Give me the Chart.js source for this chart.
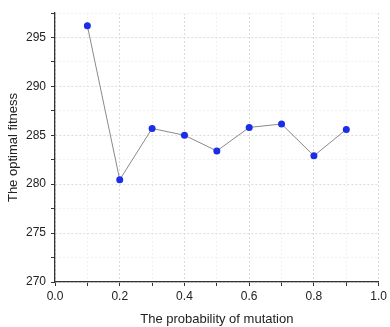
<!DOCTYPE html>
<html><head><meta charset="utf-8">
<script src="https://cdn.jsdelivr.net/npm/chart.js@4/dist/chart.umd.min.js"></script>
<style>html,body{margin:0;padding:0;background:#fff}#wrap{width:390px;height:327px}</style>
</head><body><div id="wrap"><canvas id="c" width="390" height="327"></canvas></div>
<script>
const mutationProb = [0.1,0.2,0.3,0.4,0.5,0.6,0.7,0.8,0.9];
const optimalFitness = [296.2,280.45,285.7,285.0,283.4,285.8,286.15,282.9,285.6];
const xTitle = 'The probability of mutation';
const yTitle = 'The optimal fitness';
const xMin = 0, xMax = 1, xStep = 0.1;
const yMin = 270, yMax = 297.5, yStep = 2.5;

const isMajorX = v => Math.abs(Math.round(v*10) % 2) === 0;
const isMajorY = v => Math.abs(v % 5) < 1e-6;
const font = {family:'Liberation Sans, Arial, sans-serif', size:12};

new Chart(document.getElementById('c'), {
  type:'line',
  data:{datasets:[{
    data: mutationProb.map((x,i)=>({x, y: optimalFitness[i]})),
    borderColor:'#8a8a8a', borderWidth:1, tension:0,
    pointBackgroundColor:'#1a2ee8', pointBorderColor:'#1a2ee8',
    pointRadius:3.5, pointBorderWidth:0
  }]},
  options:{
    responsive:false, animation:false,
    layout:{padding:{top:13,right:7,left:0,bottom:0}},
    plugins:{legend:{display:false}, tooltip:{enabled:false}},
    scales:{
      x:{type:'linear', min:xMin, max:xMax,
        afterFit(s){s.height=45;},
        ticks:{stepSize:xStep, color:'#222', font, padding:3, maxRotation:0,
          autoSkip:false,
          callback:(v)=> isMajorX(v) ? v.toFixed(1) : ''},
        grid:{drawOnChartArea:true, tickLength:4,
          color:(c)=> c.tick && isMajorX(c.tick.value) ? '#dcdcdc' : '#f0f0f0',
          tickColor:'#333', lineWidth:1},
        border:{display:true, color:'#333', width:1.3, dash:[2,2]},
        title:{display:true, text:xTitle, color:'#222', font:{family:font.family,size:13}, padding:{top:6,bottom:0}}
      },
      y:{type:'linear', min:yMin, max:yMax,
        afterFit(s){s.width=55;},
        ticks:{stepSize:yStep, color:'#222', font, padding:5, autoSkip:false,
          callback:(v)=> isMajorY(v) ? String(v) : ''},
        grid:{tickLength:4,
          color:(c)=> c.tick && isMajorY(c.tick.value) ? '#dcdcdc' : '#f0f0f0',
          tickColor:'#333', lineWidth:1},
        border:{display:true, color:'#333', width:1.3, dash:[2,2]},
        title:{display:true, text:yTitle, color:'#222', font:{family:font.family,size:13}, padding:{top:6,bottom:0}}
      }
    }
  }
});
</script></body></html>
